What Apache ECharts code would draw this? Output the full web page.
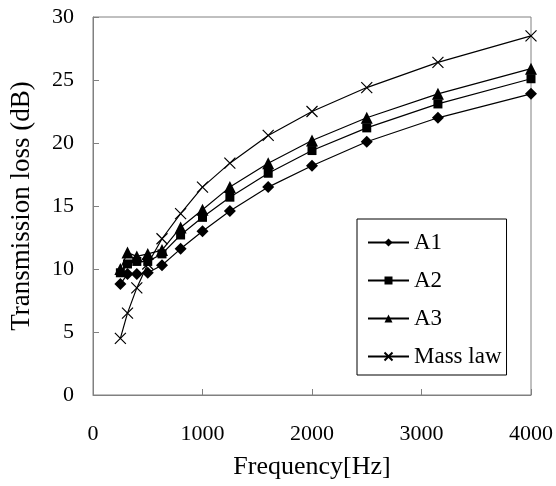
<!DOCTYPE html>
<html>
<head>
<meta charset="utf-8">
<script src="https://cdn.jsdelivr.net/npm/echarts@6/dist/echarts.min.js"></script>
<style>
  html, body { margin: 0; padding: 0; background: #fff; }
  #chart { width: 556px; height: 486px; }
</style>
</head>
<body>
<div id="chart"></div>
<script>
// third-octave band centre frequencies (Hz)
const freqs = [250, 315, 400, 500, 630, 800, 1000, 1250, 1600, 2000, 2500, 3150, 4000];

// transmission loss (dB)
const a1 = [8.8, 9.6, 9.6, 9.7, 10.3, 11.6, 13.0, 14.6, 16.5, 18.2, 20.1, 22.0, 23.9];
const a2 = [9.7, 10.4, 10.6, 10.6, 11.2, 12.7, 14.1, 15.7, 17.6, 19.4, 21.2, 23.1, 25.1];
const a3 = [10.0, 11.3, 11.0, 11.2, 11.5, 13.3, 14.7, 16.5, 18.4, 20.2, 22.0, 23.9, 25.9];
const massLaw = [4.5, 6.5, 8.5, 10.4, 12.4, 14.4, 16.5, 18.4, 20.6, 22.5, 24.4, 26.4, 28.5];

const seriesNames = ['A1', 'A2', 'A3', 'Mass law'];

const serif = '"Liberation Serif", "Times New Roman", serif';
const axisGray = '#808080';

function pairs(values) {
    return freqs.map((f, i) => [f, values[i]]);
}

function makeSeries(name, values, symbol, size, hollow) {
    return {
        name: name,
        type: 'line',
        data: pairs(values),
        symbol: symbol,
        symbolSize: size,
        showSymbol: true,
        lineStyle: { color: '#000', width: 1.2 },
        itemStyle: hollow
            ? { color: 'none', borderColor: '#000', borderWidth: 1.2 }
            : { color: '#000', borderWidth: 0 },
        emphasis: { disabled: true }
    };
}

const chart = echarts.init(document.getElementById('chart'), null, { renderer: 'canvas' });

const option = {
    animation: false,
    backgroundColor: '#fff',
    textStyle: { fontFamily: serif, color: '#000' },
    grid: {
        left: 92,
        top: 17,
        right: 25,
        bottom: 91,
        show: true,
        borderColor: axisGray,
        borderWidth: 1,
        backgroundColor: 'transparent'
    },
    xAxis: {
        type: 'value',
        min: 0,
        max: 4000,
        interval: 1000,
        name: 'Frequency[Hz]',
        nameLocation: 'middle',
        nameGap: 59,
        nameTextStyle: { fontFamily: serif, fontSize: 26, color: '#000' },
        axisLine: { show: true, lineStyle: { color: axisGray, width: 1 } },
        axisTick: { show: true, inside: true, length: 6, lineStyle: { color: axisGray } },
        axisLabel: {
            fontFamily: serif, fontSize: 22, color: '#000', margin: 28,
            formatter: (v) => String(v)
        },
        splitLine: { show: false }
    },
    yAxis: {
        type: 'value',
        min: 0,
        max: 30,
        interval: 5,
        name: 'Transmission loss (dB)',
        nameLocation: 'middle',
        nameGap: 58,
        nameTextStyle: { fontFamily: serif, fontSize: 27, color: '#000' },
        axisLine: { show: true, lineStyle: { color: axisGray, width: 1 } },
        axisTick: { show: true, inside: true, length: 6, lineStyle: { color: axisGray } },
        axisLabel: { fontFamily: serif, fontSize: 22, color: '#000', margin: 19 },
        splitLine: { show: false }
    },
    legend: {
        data: seriesNames,
        orient: 'vertical',
        left: 357,
        top: 219,
        padding: [12, 5, 7, 10],
        itemGap: 15,
        itemWidth: 41,
        itemHeight: 10,
        backgroundColor: '#fff',
        borderColor: '#000',
        borderWidth: 1,
        borderRadius: 0,
        textStyle: { fontFamily: serif, fontSize: 23, color: '#000' },
        selectedMode: false
    },
    series: [
        makeSeries('A1', a1, 'diamond', 12, false),
        makeSeries('A2', a2, 'rect', 9, false),
        makeSeries('A3', a3, 'triangle', 12, false),
        makeSeries('Mass law', massLaw, 'path://M0,0L10,10M10,0L0,10', 11, true)
    ]
};

chart.setOption(option);
</script>
</body>
</html>
